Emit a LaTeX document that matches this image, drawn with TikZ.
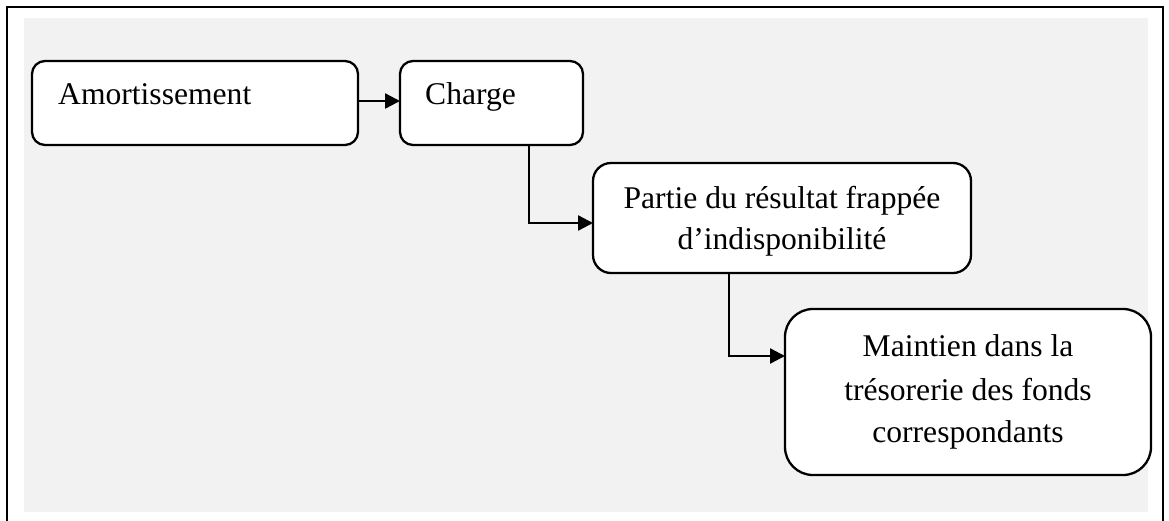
\documentclass[tikz,border=0pt]{standalone}
\usepackage{fontspec}
\setmainfont{Liberation Serif}
\usetikzlibrary{arrows.meta}
\definecolor{bggray}{HTML}{F2F2F2}
\begin{document}
\begin{tikzpicture}[x=1pt,y=-1pt,
  box/.style={draw=black,line width=2.3pt,fill=white,inner sep=0pt,outer sep=0pt},
  txt/.style={inner sep=0pt,font=\fontsize{31.6}{42}\selectfont},
  conn/.style={line width=2.4pt,-{Triangle[length=15pt,width=15pt]}}]
\useasboundingbox (0,0) rectangle (1169,520);
\fill[white] (0,0) rectangle (1169,520);
\fill[bggray] (24,18) rectangle (1148,512);
\draw[line width=2.8pt] (7,521) -- (7,7) -- (1163,7) -- (1163,521);
% boxes
\node[box,rounded corners=13pt,minimum width=326pt,minimum height=84pt] (amort) at (195,103) {};
\node[box,rounded corners=13pt,minimum width=183pt,minimum height=84pt] (charge) at (491.5,103) {};
\node[box,rounded corners=18pt,minimum width=378pt,minimum height=110pt] (partie) at (782,218) {};
\node[box,rounded corners=28pt,minimum width=366pt,minimum height=166pt] (maint) at (968,392) {};
% texts
\node[txt,anchor=base west] (tamort) at (58,104) {Amortissement};
\node[txt,anchor=base west] (tcharge) at (425,104) {Charge};
\node[txt,anchor=base] (tpartie1) at (782,208) {Partie du résultat frappée};
\node[txt,anchor=base] (tpartie2) at (782,249) {d’indisponibilité};
\node[txt,anchor=base] (tmaint1) at (968,356) {Maintien dans la};
\node[txt,anchor=base] (tmaint2) at (968,400) {trésorerie des fonds};
\node[txt,anchor=base] (tmaint3) at (968,442) {correspondants};
% connectors
\coordinate (c1) at (529,223);
\coordinate (c2) at (729,356);
\draw[conn] (amort.east |- 0,101) -- (charge.west |- 0,101);
\draw[conn] (charge.south -| c1) |- (partie.west |- c1);
\draw[conn] (partie.south -| c2) |- (maint.west |- c2);
\end{tikzpicture}
\end{document}
